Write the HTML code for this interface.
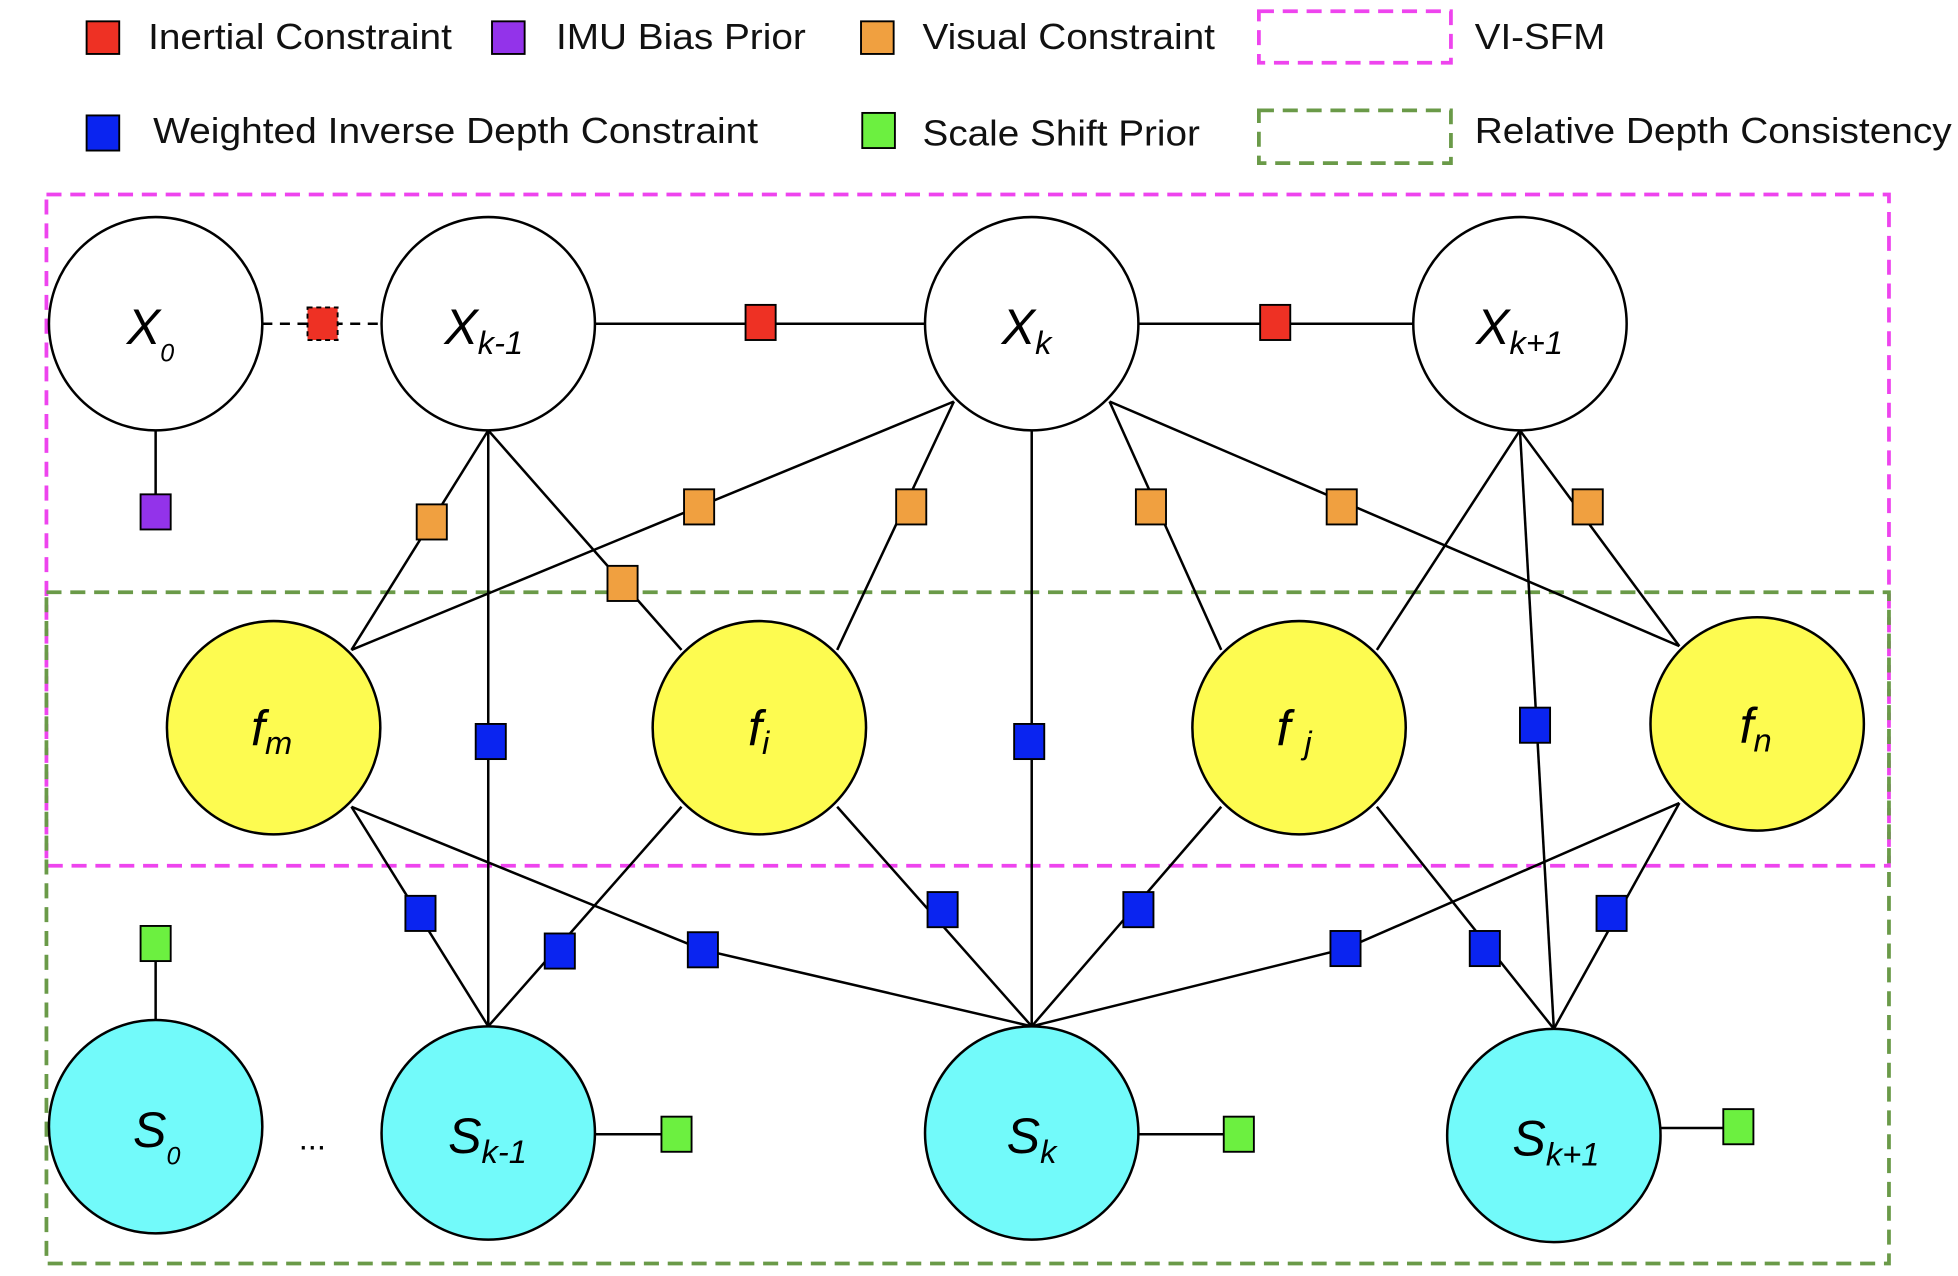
<!DOCTYPE html>
<html><head><style>html,body{margin:0;padding:0;background:#fff}svg{display:block}</style></head>
<body>
<svg width="1958" height="1276" viewBox="0 0 1560 1017" preserveAspectRatio="none" xmlns="http://www.w3.org/2000/svg" font-family="Liberation Sans, Arial, sans-serif">
<g font-size="29" fill="#111">
<rect x="69" y="17" width="26" height="26" fill="#ee3124" stroke="#000" stroke-width="1.5"/><text x="118" y="39" textLength="242" lengthAdjust="spacingAndGlyphs">Inertial Constraint</text>
<rect x="392" y="17" width="26" height="26" fill="#9333ea" stroke="#000" stroke-width="1.5"/><text x="443" y="39" textLength="199" lengthAdjust="spacingAndGlyphs">IMU Bias Prior</text>
<rect x="686" y="17" width="26" height="26" fill="#f0a040" stroke="#000" stroke-width="1.5"/><text x="735" y="39" textLength="233" lengthAdjust="spacingAndGlyphs">Visual Constraint</text>
<rect x="1003" y="9" width="153" height="41" fill="none" stroke="#ee44ee" stroke-width="3" stroke-dasharray="12,7"/><text x="1175" y="39" textLength="104" lengthAdjust="spacingAndGlyphs">VI-SFM</text>
<rect x="69" y="92" width="26" height="28" fill="#0a24f0" stroke="#000" stroke-width="1.5"/><text x="122" y="114" textLength="482" lengthAdjust="spacingAndGlyphs">Weighted Inverse Depth Constraint</text>
<rect x="687" y="90" width="26" height="28" fill="#6cf040" stroke="#000" stroke-width="1.5"/><text x="735" y="116" textLength="221" lengthAdjust="spacingAndGlyphs">Scale Shift Prior</text>
<rect x="1003" y="88" width="153" height="42" fill="none" stroke="#6a9a48" stroke-width="3" stroke-dasharray="12,7"/><text x="1175" y="114" textLength="380" lengthAdjust="spacingAndGlyphs">Relative Depth Consistency</text>
</g>
<rect x="37" y="155" width="1468" height="535" fill="none" stroke="#ee44ee" stroke-width="3" stroke-dasharray="12,7"/>
<rect x="37" y="472" width="1468" height="535" fill="none" stroke="#6a9a48" stroke-width="3" stroke-dasharray="12,7"/>
<g stroke="#000" stroke-width="2" fill="none">
<line x1="209" y1="258" x2="304" y2="258" stroke-dasharray="8,6"/>
<line x1="474" y1="258" x2="737" y2="258"/>
<line x1="907" y1="258" x2="1126" y2="258"/>
<line x1="124" y1="343" x2="124" y2="396"/>
<line x1="389" y1="343" x2="280" y2="518"/>
<line x1="389" y1="343" x2="543" y2="518"/>
<line x1="389" y1="343" x2="389" y2="818"/>
<line x1="760" y1="320" x2="280" y2="518"/>
<line x1="760" y1="320" x2="667" y2="518"/>
<line x1="822" y1="343" x2="822" y2="818"/>
<line x1="884" y1="320" x2="973" y2="518"/>
<line x1="884" y1="320" x2="1338" y2="515"/>
<line x1="1211" y1="343" x2="1097" y2="518"/>
<line x1="1211" y1="343" x2="1238" y2="820"/>
<line x1="1211" y1="343" x2="1338" y2="515"/>
<line x1="280" y1="643" x2="389" y2="818"/>
<polyline points="280,643 560,757 822,818"/>
<line x1="543" y1="643" x2="389" y2="818"/>
<line x1="667" y1="643" x2="822" y2="818"/>
<line x1="973" y1="643" x2="822" y2="818"/>
<line x1="1097" y1="643" x2="1238" y2="820"/>
<polyline points="1338,640 1072,756 822,818"/>
<line x1="1338" y1="640" x2="1238" y2="820"/>
<line x1="124" y1="765" x2="124" y2="813"/>
<line x1="474" y1="904" x2="527" y2="904"/>
<line x1="907" y1="904" x2="975" y2="904"/>
<line x1="1323" y1="899" x2="1373" y2="899"/>
</g>
<g stroke="#000" stroke-width="1.5">
<rect x="245" y="245" width="24" height="26" fill="#ee3124" stroke-dasharray="4,3"/>
<rect x="594" y="243" width="24" height="28" fill="#ee3124"/>
<rect x="1004" y="243" width="24" height="28" fill="#ee3124"/>
<rect x="112" y="394" width="24" height="28" fill="#9333ea"/>
<g fill="#f0a040">
<rect x="332" y="402" width="24" height="28"/><rect x="484" y="451" width="24" height="28"/>
<rect x="545" y="390" width="24" height="28"/><rect x="714" y="390" width="24" height="28"/>
<rect x="905" y="390" width="24" height="28"/><rect x="1057" y="390" width="24" height="28"/>
<rect x="1253" y="390" width="24" height="28"/>
</g>
<g fill="#0a24f0">
<rect x="379" y="577" width="24" height="28"/><rect x="808" y="577" width="24" height="28"/>
<rect x="1211" y="564" width="24" height="28"/>
<rect x="323" y="714" width="24" height="28"/><rect x="434" y="744" width="24" height="28"/>
<rect x="548" y="743" width="24" height="28"/><rect x="739" y="711" width="24" height="28"/>
<rect x="895" y="711" width="24" height="28"/><rect x="1060" y="742" width="24" height="28"/>
<rect x="1171" y="742" width="24" height="28"/><rect x="1272" y="714" width="24" height="28"/>
</g>
<g fill="#6cf040">
<rect x="112" y="738" width="24" height="28"/><rect x="527" y="890" width="24" height="28"/>
<rect x="975" y="890" width="24" height="28"/><rect x="1373" y="884" width="24" height="28"/>
</g>
</g>
<g stroke="#000" stroke-width="2">
<circle cx="124" cy="258" r="85" fill="#fff"/><circle cx="389" cy="258" r="85" fill="#fff"/>
<circle cx="822" cy="258" r="85" fill="#fff"/><circle cx="1211" cy="258" r="85" fill="#fff"/>
<g fill="#fdfb50"><circle cx="218" cy="580" r="85"/><circle cx="605" cy="580" r="85"/><circle cx="1035" cy="580" r="85"/><circle cx="1400" cy="577" r="85"/></g>
<g fill="#72fafa"><circle cx="124" cy="898" r="85"/><circle cx="389" cy="903" r="85"/><circle cx="822" cy="903" r="85"/><circle cx="1238" cy="905" r="85"/></g>
</g>
<g font-style="italic" font-size="40" fill="#000">
<text x="101" y="274">X<tspan font-size="20" dy="14">0</tspan></text>
<text x="354" y="274">X<tspan font-size="26" dy="8">k-1</tspan></text>
<text x="798" y="274">X<tspan font-size="26" dy="8">k</tspan></text>
<text x="1176" y="274">X<tspan font-size="26" dy="8">k+1</tspan></text>
<text x="200" y="594">f<tspan font-size="26" dy="7">m</tspan></text>
<text x="596" y="594">f<tspan font-size="26" dy="7">i</tspan></text>
<text x="1017" y="594">f <tspan font-size="26" dy="7">j</tspan></text>
<text x="1386" y="592">f<tspan font-size="26" dy="7">n</tspan></text>
<text x="106" y="914">S<tspan font-size="20" dy="14">0</tspan></text>
<text x="357" y="919">S<tspan font-size="26" dy="8">k-1</tspan></text>
<text x="802" y="919">S<tspan font-size="26" dy="8">k</tspan></text>
<text x="1205" y="921">S<tspan font-size="26" dy="8">k+1</tspan></text>
</g>
<text x="238" y="916" font-size="26" fill="#000">...</text>
</svg>
</body></html>
